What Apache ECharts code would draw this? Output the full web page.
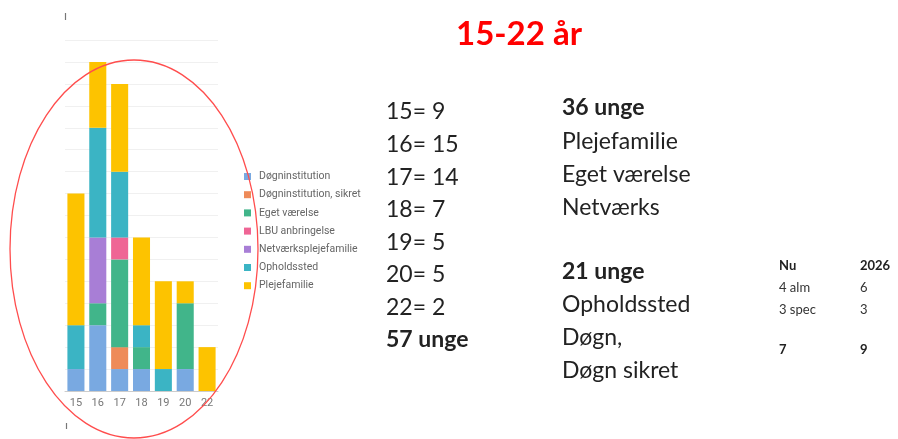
<!DOCTYPE html>
<html>
<head>
<meta charset="utf-8">
<script src="https://cdn.jsdelivr.net/npm/echarts@6/dist/echarts.min.js"></script>
<style>
  html, body { margin: 0; padding: 0; background: #fff; }
  #main { width: 898px; height: 439px; }
</style>
</head>
<body>
<div id="main"></div>
<script>
// alder
var ages = ['15', '16', '17', '18', '19', '20', '22']

// antal unge pr. anbringelsestype
var dognInst = [1, 3, 1, 1, 0, 1, 0]
var dognSikret = [0, 0, 1, 0, 0, 0, 0]
var egetVaerelse = [0, 1, 4, 1, 0, 3, 0]
var lbu = [0, 0, 1, 0, 0, 0, 0]
var netvaerk = [0, 3, 0, 0, 0, 0, 0]
var ophold = [2, 5, 3, 1, 1, 0, 0]
var pleje = [6, 3, 4, 4, 4, 1, 2]

var seriesNames = ['Døgninstitution', 'Døgninstitution, sikret', 'Eget værelse', 'LBU anbringelse',
  'Netværksplejefamilie', 'Opholdssted', 'Plejefamilie']
var seriesData = [dognInst, dognSikret, egetVaerelse, lbu, netvaerk, ophold, pleje]
var colors = ['#79a9e1', '#ee8b59', '#41b58a', '#ef6595', '#a87ed6', '#3bb4c4', '#fdc300']

// tekst til højre
var ageLines = ['15= 9', '16= 15', '17= 14', '18= 7', '19= 5', '20= 5', '22= 2']
var ageTotal = '57 unge'
var group1 = ['Plejefamilie', 'Eget værelse', 'Netværks']
var group1Title = '36 unge'
var group2 = ['Opholdssted', 'Døgn,', 'Døgn sikret']
var group2Title = '21 unge'
var tableHead = ['Nu', '2026']
var tableRows = [['4 alm', '6'], ['3 spec', '3']]
var tableSum = ['7', '9']

var chart = echarts.init(document.getElementById('main'))

var font = 'Lato, "Open Sans", sans-serif'
var graphics = []

function txt(x, y, s, size, bold, color) {
  graphics.push({
    type: 'text',
    x: x, y: y, z: 10,
    style: {
      text: s,
      font: (bold ? 'bold ' : '') + size + 'px ' + font,
      fill: color || '#222',
      textVerticalAlign: 'middle'
    }
  })
}

// titel
graphics.push({
  type: 'text', x: 519, y: 34, z: 10,
  style: { text: '15-22 år', font: 'bold 33px ' + font, fill: '#ff0000', textAlign: 'center', textVerticalAlign: 'middle' }
})

ageLines.forEach(function (s, i) { txt(386, 112 + i * 32.6, s, 23, false) })
txt(386, 340, ageTotal, 23, true)

txt(562, 108, group1Title, 23, true)
group1.forEach(function (s, i) { txt(562, 142 + i * 32.7, s, 23, false) })
txt(562, 272, group2Title, 23, true)
group2.forEach(function (s, i) { txt(562, 305 + i * 32.7, s, 23, false) })

txt(779, 266, tableHead[0], 13, true)
txt(860, 266, tableHead[1], 13, true)
tableRows.forEach(function (r, i) {
  txt(779, 288 + i * 22, r[0], 13, false, '#333')
  txt(860, 288 + i * 22, r[1], 13, false, '#333')
})
txt(779, 350, tableSum[0], 13, true)
txt(860, 350, tableSum[1], 13, true)

// små streger
graphics.push({ type: 'line', z: 10, shape: { x1: 65.5, y1: 13, x2: 65.5, y2: 20 }, style: { stroke: '#777', lineWidth: 1.2 } })
graphics.push({ type: 'line', z: 10, shape: { x1: 66.5, y1: 423, x2: 66.5, y2: 429 }, style: { stroke: '#777', lineWidth: 1.2 } })

// rød ellipse
graphics.push({
  type: 'ellipse', z: 20,
  shape: { cx: 134, cy: 249, rx: 124, ry: 189 },
  style: { fill: 'none', stroke: '#ff4d4d', lineWidth: 1.3 }
})

var option = {
  backgroundColor: '#fff',
  color: colors,
  animation: false,
  legend: {
    orient: 'vertical',
    left: 239,
    top: 166,
    itemWidth: 7,
    itemHeight: 7,
    itemGap: 7.2,
    icon: 'rect',
    textStyle: { fontSize: 10.5, color: '#666', fontFamily: 'Roboto, sans-serif', padding: [0, 0, 0, 3] },
    data: seriesNames
  },
  grid: { left: 65, top: 40, width: 153, height: 351, containLabel: false },
  xAxis: {
    type: 'category',
    data: ages,
    axisLine: { lineStyle: { color: '#ccc' } },
    axisTick: { show: false },
    axisLabel: { color: '#777', fontSize: 11, margin: 7, fontFamily: 'Roboto, sans-serif' }
  },
  yAxis: {
    type: 'value',
    min: 0, max: 16, interval: 1,
    axisLabel: { show: false },
    axisLine: { show: false },
    axisTick: { show: false },
    splitLine: { lineStyle: { color: '#f0f0f0' } }
  },
  series: seriesNames.map(function (n, i) {
    return {
      name: n,
      type: 'bar',
      stack: 'alle',
      barCategoryGap: '22%',
      data: seriesData[i]
    }
  }),
  graphic: graphics
}

chart.setOption(option)
</script>
</body>
</html>
